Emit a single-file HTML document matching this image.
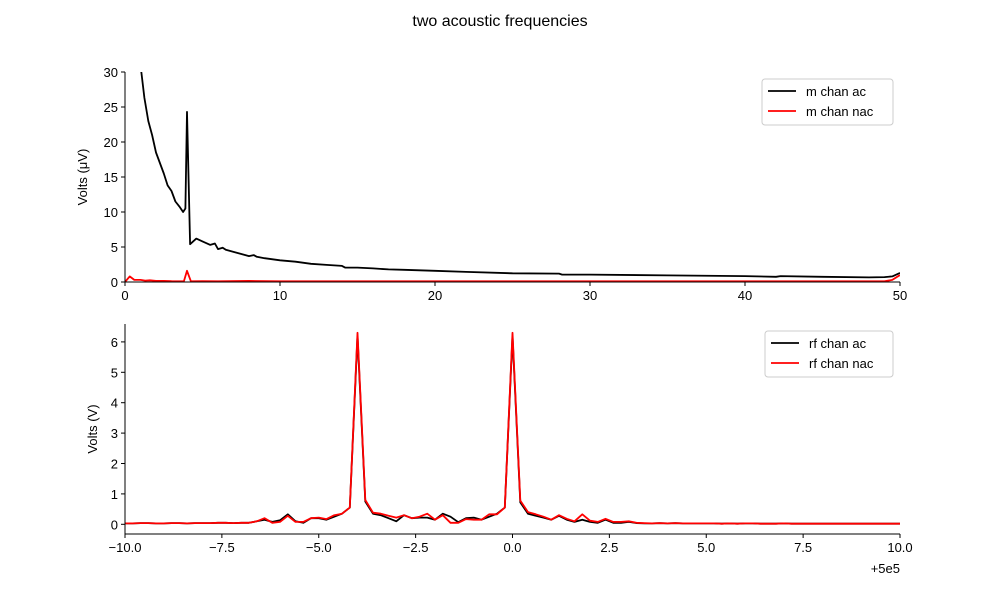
<!DOCTYPE html>
<html><head><meta charset="utf-8"><style>
body{margin:0;background:#fff;}
svg{font-family:"Liberation Sans","DejaVu Sans",sans-serif;}
</style></head><body>
<svg id="c" width="1000" height="600" viewBox="0 0 1000 600" xmlns="http://www.w3.org/2000/svg">
<text x="500" y="26" text-anchor="middle" font-size="16">two acoustic frequencies</text>
</svg>
<script>
// Top chart data
const topX = [0.75,1.0,1.25,1.5,1.75,2.0,2.25,2.5,2.75,3.0,3.25,3.5,3.75,3.9,4.0,4.2,4.6,5.0,5.5,5.8,6.0,6.3,6.5,7.0,7.5,8.0,8.3,8.5,9.0,10,11,12,13,14,14.2,15,16,17,18,20,22,25,28,28.2,30,35,40,42,42.3,45,48,49,49.5,50];
const topAc = [40,31,26.3,23,21,18.5,17,15.5,13.8,13,11.5,10.8,10.0,10.5,24.3,5.4,6.2,5.8,5.3,5.5,4.7,4.9,4.6,4.3,4.0,3.7,3.85,3.6,3.4,3.1,2.9,2.6,2.45,2.3,2.05,2.05,1.95,1.8,1.75,1.6,1.45,1.25,1.2,1.05,1.05,0.95,0.85,0.75,0.85,0.75,0.65,0.7,0.8,1.3];
const topRedX = [0,0.3,0.6,1.0,1.3,1.6,2.0,2.5,3.0,3.5,3.8,4.0,4.25,5,6,8,10,15,20,25,30,35,40,45,49,49.5,50];
const topNac = [0,0.8,0.3,0.3,0.2,0.25,0.15,0.15,0.12,0.1,0.1,1.6,0.1,0.12,0.1,0.15,0.1,0.1,0.1,0.1,0.1,0.1,0.1,0.1,0.1,0.3,1.0];
const topXTicks = [0,10,20,30,40,50];
const topYTicks = [0,5,10,15,20,25,30];
// Bottom chart data (x step 0.2 from -10 to 10, offset +5e5)
const botAc = [0.03,0.03,0.04,0.04,0.03,0.03,0.04,0.04,0.03,0.04,0.04,0.04,0.05,0.05,0.04,0.05,0.05,
0.1,0.15,0.08,0.13,0.33,0.1,0.05,0.2,0.2,0.15,0.25,0.35,0.55,
6.2,0.75,0.35,0.3,0.2,0.1,0.3,0.2,0.22,0.22,0.15,0.35,0.25,0.07,0.2,0.22,0.15,0.25,0.35,0.55,6.2,
0.72,0.35,0.28,0.22,0.15,0.28,0.15,0.08,0.15,0.08,0.05,0.15,0.05,0.05,0.08,0.04,0.03,0.03,0.04,0.03,0.04,0.03,0.03,0.03,0.03,0.03,0.02,0.03,0.02,0.03,0.03,0.02,0.02,0.02,0.03,0.02,0.02,0.02,0.02,0.02,0.02,0.02,0.02,0.02,0.02,0.02,0.02,0.02,0.02,0.02];
const botNac = [0.03,0.03,0.04,0.04,0.03,0.03,0.04,0.04,0.03,0.04,0.04,0.04,0.05,0.05,0.04,0.05,0.05,
0.1,0.2,0.05,0.08,0.28,0.08,0.08,0.2,0.22,0.17,0.3,0.35,0.55,
6.3,0.8,0.38,0.35,0.28,0.22,0.3,0.2,0.25,0.35,0.15,0.3,0.05,0.05,0.17,0.15,0.15,0.33,0.33,0.55,6.3,
0.78,0.4,0.33,0.25,0.15,0.3,0.18,0.1,0.33,0.12,0.08,0.18,0.08,0.08,0.1,0.05,0.04,0.03,0.04,0.03,0.04,0.03,0.03,0.03,0.03,0.03,0.02,0.03,0.02,0.03,0.03,0.02,0.02,0.02,0.03,0.02,0.02,0.02,0.02,0.02,0.02,0.02,0.02,0.02,0.02,0.02,0.02,0.02,0.02,0.02];
const botXTicks = [-10,-7.5,-5,-2.5,0,2.5,5,7.5,10];
const botXLabels = ["−10.0","−7.5","−5.0","−2.5","0.0","2.5","5.0","7.5","10.0"];
const botYTicks = [0,1,2,3,4,5,6];

const NS="http://www.w3.org/2000/svg";
const svg=document.getElementById('c');
function mk(tag,attrs,parent){const e=document.createElementNS(NS,tag);for(const k in attrs)e.setAttribute(k,attrs[k]);(parent||svg).appendChild(e);return e;}

const defs=mk('defs',{});
const cp1=mk('clipPath',{id:'cp1'},defs);mk('rect',{x:125,y:72,width:775,height:210},cp1);
const cp2=mk('clipPath',{id:'cp2'},defs);mk('rect',{x:125,y:324,width:775,height:210},cp2);

const tx=v=>125+(v-0)/50*775;
const ty=v=>282-(v/30)*210;
const bx=v=>125+(v+10)/20*775;
const by=v=>524.3-v*30.4;

function line(xs,ys,fx,fy,color,clip,name){
  const p=xs.map((x,i)=>fx(x).toFixed(1)+','+fy(ys[i]).toFixed(1)).join(' ');
  const e=mk('polyline',{points:p,fill:'none',stroke:color,'stroke-width':1.8,'stroke-linejoin':'round','clip-path':'url(#'+clip+')'});
  
  
}
line(topX,topAc,tx,ty,'#000','cp1','series-m-chan-ac');
line(topRedX,topNac,tx,ty,'#f00','cp1','series-m-chan-nac');
const bxs=botAc.map((_,i)=>-10+i*0.2);
line(bxs,botAc,bx,by,'#000','cp2','series-rf-chan-ac');
line(bxs,botNac,bx,by,'#f00','cp2','series-rf-chan-nac');

function axes(x0,x1,y0,y1,xt,xl,fx,yt,fy,pre){
  let e=mk('line',{x1:x0,y1:y1,x2:x1,y2:y1,stroke:'#000','stroke-width':1});
  
  
  e=mk('line',{x1:x0,y1:y0,x2:x0,y2:y1,stroke:'#000','stroke-width':1});
  
  
  xt.forEach((v,i)=>{const X=fx(v);
    mk('line',{x1:X,y1:y1,x2:X,y2:y1+4,stroke:'#000'});
    const t=mk('text',{x:X,y:y1+18,'text-anchor':'middle','font-size':13});t.textContent=xl[i];
    
    
  });
  yt.forEach(v=>{const Y=fy(v);
    mk('line',{x1:x0-4,y1:Y,x2:x0,y2:Y,stroke:'#000'});
    const t=mk('text',{x:x0-7,y:Y+5,'text-anchor':'end','font-size':13});t.textContent=String(v);
    
    
  });
}
axes(125,900,72,282,topXTicks,topXTicks.map(String),tx,topYTicks,ty,'top');
axes(125,900,324,534,botXTicks,botXLabels,bx,botYTicks,by,'bottom');

function ylabel(x,y,txt,name){const t=mk('text',{x:x,y:y,'text-anchor':'middle','font-size':13,transform:'rotate(-90 '+x+' '+y+')'});t.textContent=txt;
  
  }
ylabel(87,177,'Volts (μV)','top-y-axis-title');
ylabel(97,429,'Volts (V)','bottom-y-axis-title');
const off=mk('text',{x:900,y:573,'text-anchor':'end','font-size':13});off.textContent='+5e5';



function legend(x,y,w,labels,pre){
  const g=mk('g',{});
  
  
  mk('rect',{x:x,y:y,width:w,height:46,rx:3,fill:'#fff','fill-opacity':0.8,stroke:'#ccc'},g);
  labels.forEach((l,i)=>{const Y=y+12+i*20;
    mk('line',{x1:x+6,y1:Y,x2:x+34,y2:Y,stroke:l[1],'stroke-width':1.8},g);
    const t=mk('text',{x:x+44,y:Y+5,'font-size':13},g);t.textContent=l[0];
    
    
  });
}
legend(762,79,131,[['m chan ac','#000'],['m chan nac','#f00']],'top');
legend(765,331,128,[['rf chan ac','#000'],['rf chan nac','#f00']],'bottom');
</script>
</body></html>
